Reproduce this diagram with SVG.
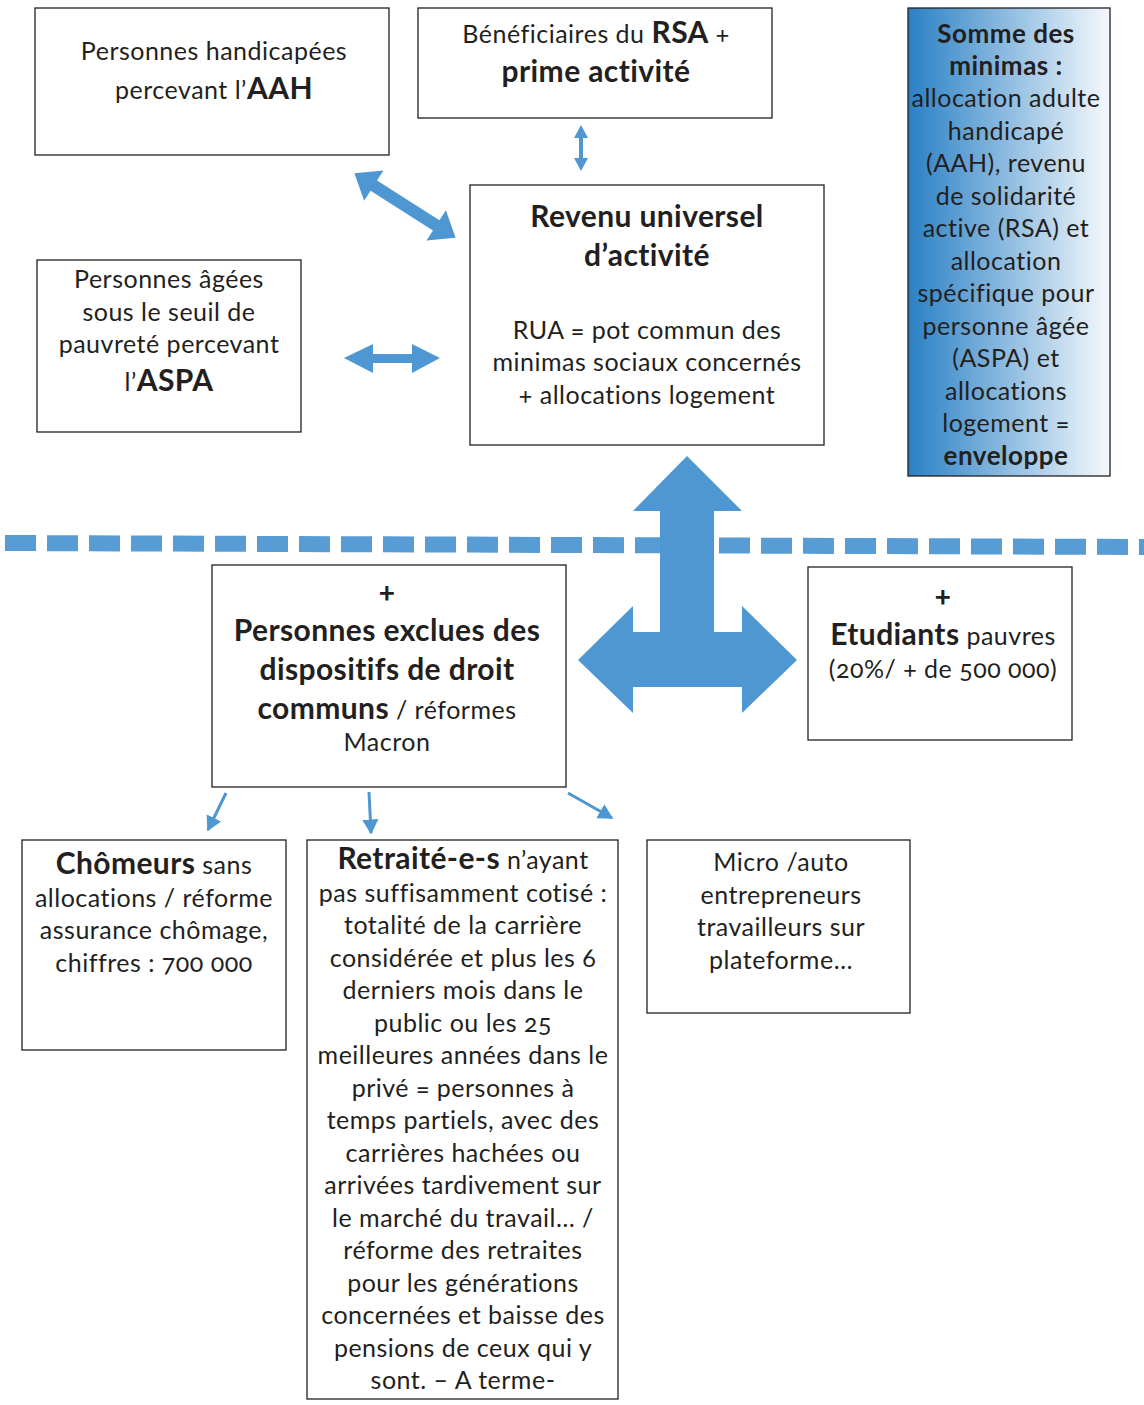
<svg xmlns="http://www.w3.org/2000/svg" width="1144" height="1405" viewBox="0 0 1144 1405">
<style>
text{font-family:Lato,"Open Sans","Noto Sans",sans-serif;font-size:25px;letter-spacing:0.5px;fill:#231f20;text-anchor:middle;font-variant-numeric:oldstyle-nums}
.b{font-weight:bold;font-size:30px;letter-spacing:0.4px}
.bs{font-weight:bold;font-size:26px}
.box{fill:#fff;stroke:#231f20;stroke-width:1.3}
.arr{fill:#4f97d3}
.ln{stroke:#4f97d3;stroke-width:3;fill:none;marker-end:url(#ah)}
</style>
<defs>
<linearGradient id="g" x1="0" y1="0" x2="1" y2="0">
<stop offset="0" stop-color="#2a80c5"/>
<stop offset="1" stop-color="#f6f9fc"/>
</linearGradient>
<marker id="ah" markerWidth="6" markerHeight="6" refX="4.5" refY="3" orient="auto" markerUnits="strokeWidth">
<path d="M0,0.3 L5,3 L0,5.7 z" fill="#4f97d3"/>
</marker>
</defs>

<g id="connectors">
<path class="arr" d="M581,125 L588,138 L583,138 L583,158 L588,158 L581,171 L574,158 L579,158 L579,138 L574,138 z"/>
<path class="arr" transform="translate(405,205.5) rotate(32.5)" d="M-60,0 L-37,-18 L-37,-6 L37,-6 L37,-18 L60,0 L37,18 L37,6 L-37,6 L-37,18 z"/>
<path class="arr" d="M344,358 L373,344 L373,354 L412,354 L412,344 L440,358 L412,373 L412,363 L373,363 L373,373 z"/>
<line x1="5" y1="543" x2="1144" y2="547" stroke="#4f97d3" stroke-width="16" stroke-dasharray="31 11" opacity="0.95"/>
<path class="arr" d="M687,456 L742,511 L714,511 L714,632 L742,632 L742,606 L797,660 L742,713 L742,687 L633,687 L633,713 L578,660 L633,606 L633,632 L660,632 L660,511 L633,511 z"/>
<line class="ln" x1="226" y1="793" x2="208" y2="830"/>
<line class="ln" x1="369" y1="792" x2="371" y2="833"/>
<line class="ln" x1="568" y1="793" x2="612" y2="818"/>
</g>

<g id="n-aah">
<rect class="box" x="35" y="8" width="354" height="147"/>
<text x="214" y="60">Personnes handicapées</text>
<text x="214" y="99">percevant l’<tspan class="b">AAH</tspan></text>
</g>

<g id="n-rsa">
<rect class="box" x="418" y="8" width="354" height="110"/>
<text x="596" y="43">Bénéficiaires du <tspan class="b">RSA</tspan> +</text>
<text x="596" y="82" class="b">prime activité</text>
</g>

<g id="n-somme">
<rect x="908" y="8" width="202" height="468" fill="url(#g)" stroke="#231f20" stroke-width="1.3"/>
<text x="1006" y="43" class="bs">Somme des</text>
<text x="1006" y="75" class="bs">minimas :</text>
<text x="1006" y="107">allocation adulte</text>
<text x="1006" y="140">handicapé</text>
<text x="1006" y="172">(AAH), revenu</text>
<text x="1006" y="205">de solidarité</text>
<text x="1006" y="237">active (RSA) et</text>
<text x="1006" y="270">allocation</text>
<text x="1006" y="302">spécifique pour</text>
<text x="1006" y="335">personne âgée</text>
<text x="1006" y="367">(ASPA) et</text>
<text x="1006" y="400">allocations</text>
<text x="1006" y="432">logement =</text>
<text x="1006" y="465" class="bs">enveloppe</text>
</g>

<g id="n-rua">
<rect class="box" x="470" y="185" width="354" height="260"/>
<text x="647" y="227" class="b">Revenu universel</text>
<text x="647" y="266" class="b">d’activité</text>
<text x="647" y="339">RUA = pot commun des</text>
<text x="647" y="371">minimas sociaux concernés</text>
<text x="647" y="404">+ allocations logement</text>
</g>

<g id="n-aspa">
<rect class="box" x="37" y="260" width="264" height="172"/>
<text x="169" y="288">Personnes âgées</text>
<text x="169" y="321">sous le seuil de</text>
<text x="169" y="353">pauvreté percevant</text>
<text x="169" y="391">l’<tspan class="b">ASPA</tspan></text>
</g>

<g id="n-exclues">
<rect class="box" x="212" y="565" width="354" height="222"/>
<text x="387" y="602" class="b">+</text>
<text x="387" y="641" class="b">Personnes exclues des</text>
<text x="387" y="680" class="b">dispositifs de droit</text>
<text x="387" y="719"><tspan class="b">communs</tspan> / réformes</text>
<text x="387" y="751">Macron</text>
</g>

<g id="n-etudiants">
<rect class="box" x="808" y="567" width="264" height="173"/>
<text x="943" y="606" class="b">+</text>
<text x="943" y="645"><tspan class="b">Etudiants</tspan> pauvres</text>
<text x="943" y="678">(20%/ + de 500 000)</text>
</g>

<g id="n-chomeurs">
<rect class="box" x="22" y="840" width="264" height="210"/>
<text x="154" y="874"><tspan class="b">Chômeurs</tspan> sans</text>
<text x="154" y="907">allocations / réforme</text>
<text x="154" y="939">assurance chômage,</text>
<text x="154" y="972">chiffres : 700 000</text>
</g>

<g id="n-retraites">
<rect class="box" x="307" y="840" width="311" height="559"/>
<text x="463" y="869"><tspan class="b">Retraité-e-s</tspan> n’ayant</text>
<text x="463" y="902">pas suffisamment cotisé :</text>
<text x="463" y="934">totalité de la carrière</text>
<text x="463" y="967">considérée et plus les 6</text>
<text x="463" y="999">derniers mois dans le</text>
<text x="463" y="1032">public ou les 25</text>
<text x="463" y="1064">meilleures années dans le</text>
<text x="463" y="1097">privé = personnes à</text>
<text x="463" y="1129">temps partiels, avec des</text>
<text x="463" y="1162">carrières hachées ou</text>
<text x="463" y="1194">arrivées tardivement sur</text>
<text x="463" y="1227">le marché du travail… /</text>
<text x="463" y="1259">réforme des retraites</text>
<text x="463" y="1292">pour les générations</text>
<text x="463" y="1324">concernées et baisse des</text>
<text x="463" y="1357">pensions de ceux qui y</text>
<text x="463" y="1389">sont. – A terme-</text>
</g>

<g id="n-micro">
<rect class="box" x="647" y="840" width="263" height="173"/>
<text x="781" y="871">Micro /auto</text>
<text x="781" y="904">entrepreneurs</text>
<text x="781" y="936">travailleurs sur</text>
<text x="781" y="969">plateforme…</text>
</g>
</svg>
